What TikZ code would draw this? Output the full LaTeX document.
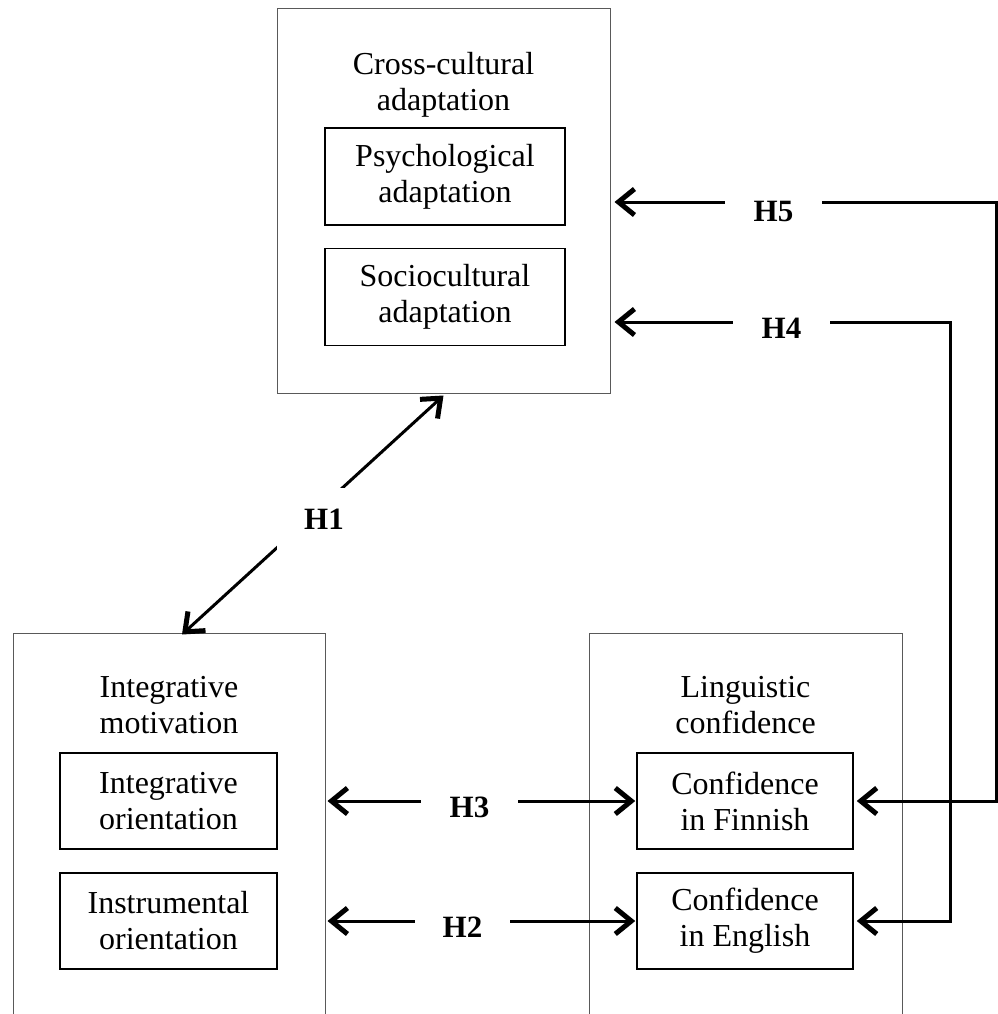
\documentclass[tikz,border=0pt]{standalone}
\usepackage{fontspec}
\setmainfont{Liberation Serif}
\usetikzlibrary{arrows.meta,calc}
\begin{document}
\begin{tikzpicture}[x=1pt,y=-1pt,
  obox/.style={draw=black!65,line width=1pt,inner sep=0pt},
  ibox/.style={draw=black,line width=1.5pt,minimum width=240pt,minimum height=97pt,align=center,inner sep=0pt,font=\fontsize{32}{36}\selectfont},
  ttl/.style={align=center,inner sep=0pt,font=\fontsize{32}{36}\selectfont},
  hlab/.style={fill=white,inner sep=0pt,minimum height=30pt,font=\fontsize{31}{36}\selectfont\bfseries},
  conn/.style={line width=3pt,line join=miter},
  dbl/.style={{Straight Barb[length=16pt,width=26pt,line width=5pt]}-{Straight Barb[length=16pt,width=26pt,line width=5pt]}}
]
\useasboundingbox (0,0) rectangle (997,1014);

% outer boxes
\node[obox,minimum width=333pt,minimum height=384pt] (ccb) at (443.5,201) {};
\node[obox,minimum width=312pt,minimum height=420pt] (imb) at (169,843) {};
\node[obox,minimum width=313pt,minimum height=420pt] (lcb) at (745.5,843) {};

% titles
\node[ttl] (ccbt) at (443.5,85) {Cross-cultural\\adaptation};
\node[ttl] (imbt) at (169,705) {Integrative\\motivation};
\node[ttl] (lcbt) at (745.5,705) {Linguistic\\confidence};

% inner boxes
\node[ibox] (psy) at (445,176.5) {Psychological\\adaptation};
\node[ibox] (soc) at (445,297) {Sociocultural\\adaptation};
\node[ibox,minimum width=217pt,minimum height=96pt] (ior) at (168.5,801) {Integrative\\orientation};
\node[ibox,minimum width=217pt,minimum height=96pt] (ins) at (168.5,921) {Instrumental\\orientation};
\node[ibox,minimum width=216pt,minimum height=96pt] (cfi) at (745,801) {Confidence\\in Finnish};
\node[ibox,minimum width=216pt,minimum height=96pt] (cen) at (745,921) {Confidence\\in English};

% corner coordinates
\coordinate (c5a) at (996,202);
\coordinate (c5b) at (996,801);
\coordinate (c4a) at (950,322);
\coordinate (c4b) at (950,921);

% connectors
\draw[conn,dbl] ([xshift=4pt]ccb.east |- c5a) -- (c5a) -- (c5b) -- ([xshift=3pt]cfi.east);
\draw[conn,dbl] ([xshift=4pt]ccb.east |- c4a) -- (c4a) -- (c4b) -- ([xshift=3pt]cen.east);
\draw[conn,dbl] ([xshift=2pt]imb.east |- cfi) -- ([xshift=-1pt]cfi.west);
\draw[conn,dbl] ([xshift=2pt]imb.east |- cen) -- ([xshift=-1pt]cen.west);
\draw[conn,dbl] ([xshift=13pt,yshift=-2pt]imb.north) -- ([yshift=-2pt]ccb.south);

% labels
\node[hlab,minimum width=97pt] (h5) at (773.5,212) {H5};
\node[hlab,minimum width=97pt] (h4) at (781.5,328) {H4};
\node[hlab,minimum width=97pt] (h3) at (469.5,807) {H3};
\node[hlab,minimum width=95pt] (h2) at (462.5,927) {H2};
\node[hlab,minimum width=94pt,minimum height=62pt] (h1) at (324,519) {H1};
\end{tikzpicture}
\end{document}
